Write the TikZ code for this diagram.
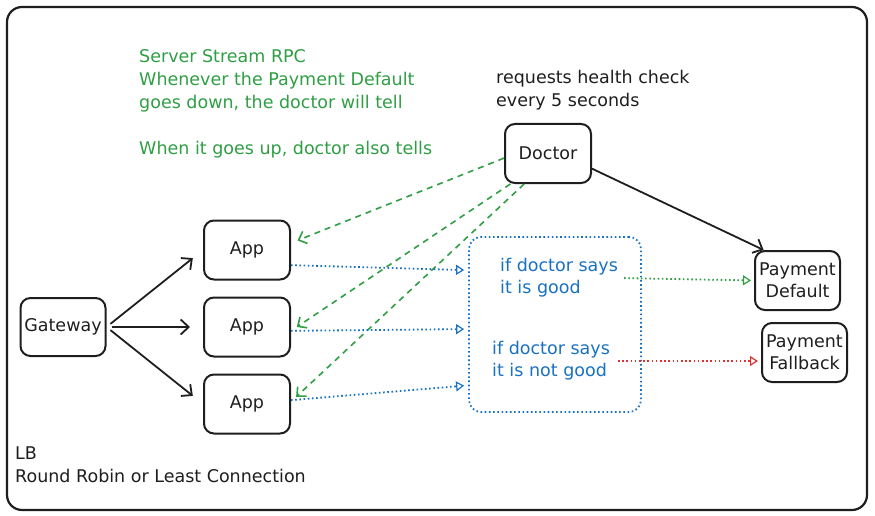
\documentclass[tikz,border=0pt]{standalone}
\usepackage{fontspec}
\setmainfont{DejaVu Sans}
\usetikzlibrary{arrows.meta}
\definecolor{ink}{HTML}{1E1E1E}
\definecolor{exgreen}{HTML}{2F9E44}
\definecolor{exblue}{HTML}{1971C2}
\definecolor{exred}{HTML}{E03131}

\begin{document}
\begin{tikzpicture}[x=1pt,y=-1pt,
	every node/.style={font=\fontsize{17.5}{22}\selectfont},
	box/.style={draw=ink,line width=2pt,rounded corners=10pt,minimum width=86pt,minimum height=59pt,align=center,text=ink},
	note/.style={align=left,anchor=north west,inner sep=0pt,font=\fontsize{17.5}{23}\selectfont},
	push/.style={-{Straight Barb[length=8pt,width=15pt]},draw=ink,line width=1.8pt},
	tell/.style={-{Straight Barb[length=7pt,width=13pt]},draw=exgreen,line width=1.6pt,dash pattern=on 6pt off 5pt},
	ask/.style={-{Triangle[open,length=8pt,width=10pt,line width=1.2pt]},line width=1.8pt,dash pattern=on 1.6pt off 2.6pt}]
\useasboundingbox (0,0) rectangle (875,516);
\draw[ink,line width=2.2pt,rounded corners=15pt] (7,7) rectangle (867,510);
% boxes
\node[box,minimum width=85pt,minimum height=58pt] (gw) at (63,327) {Gateway};
\foreach[count=\c] \y in {250,327,404}
	\node[box] (app\c) at (247,\y) {App};
\node[box] (doc) at (548,153.5) {Doctor};
\node[box,minimum width=85pt] (pd) at (797.5,280.5) {Payment\\Default};
\node[box,minimum width=85pt] (pf) at (804.5,352.5) {Payment\\Fallback};
% health rule
\node[draw=exblue,line width=1.8pt,rounded corners=12pt,dash pattern=on 1.6pt off 2.6pt,minimum width=172pt,minimum height=175pt] (rule) at (555,324.5) {};
\node[text=exblue,align=left,anchor=west,inner sep=0pt] (good) at (500,278) {if doctor says\\it is good};
\node[text=exblue,align=left,anchor=west,inner sep=0pt] (bad) at (492,361) {if doctor says\\it is not good};
% arrows
\foreach \i in {1,2,3}
	\draw[push,shorten <=5pt,shorten >=13pt] (gw.east) -- (app\i.west);
\draw[push] (doc.-19) -- (pd.138);
\foreach \a/\i/\b in {186/1/9,219/2/-5,232/3/3}
	\draw[tell,shorten >=7pt] (doc.\a) -- (app\i.\b);
\foreach \a/\i/\b in {-19/1/148,-5/2/183,5/3/215}
	\draw[ask,exblue,shorten >=4pt] (app\i.\a) -- (rule.\b);
\draw[ask,exgreen,shorten <=6pt,shorten >=3pt] (good.east) -- (pd.west);
\draw[ask,exred,shorten <=8pt,shorten >=3pt] (bad.east) -- (bad.east -| pf.west);
% notes
\node[note,text=exgreen] (rpc) at (139,49.5) {Server Stream RPC\\Whenever the Payment Default\\goes down, the doctor will tell\\[23pt]When it goes up, doctor also tells};
\node[note,text=ink] (hc) at (496,70.5) {requests health check\\every 5 seconds};
\node[note,text=ink] (lb) at (15,446.5) {LB\\Round Robin or Least Connection};
\end{tikzpicture}
\end{document}
